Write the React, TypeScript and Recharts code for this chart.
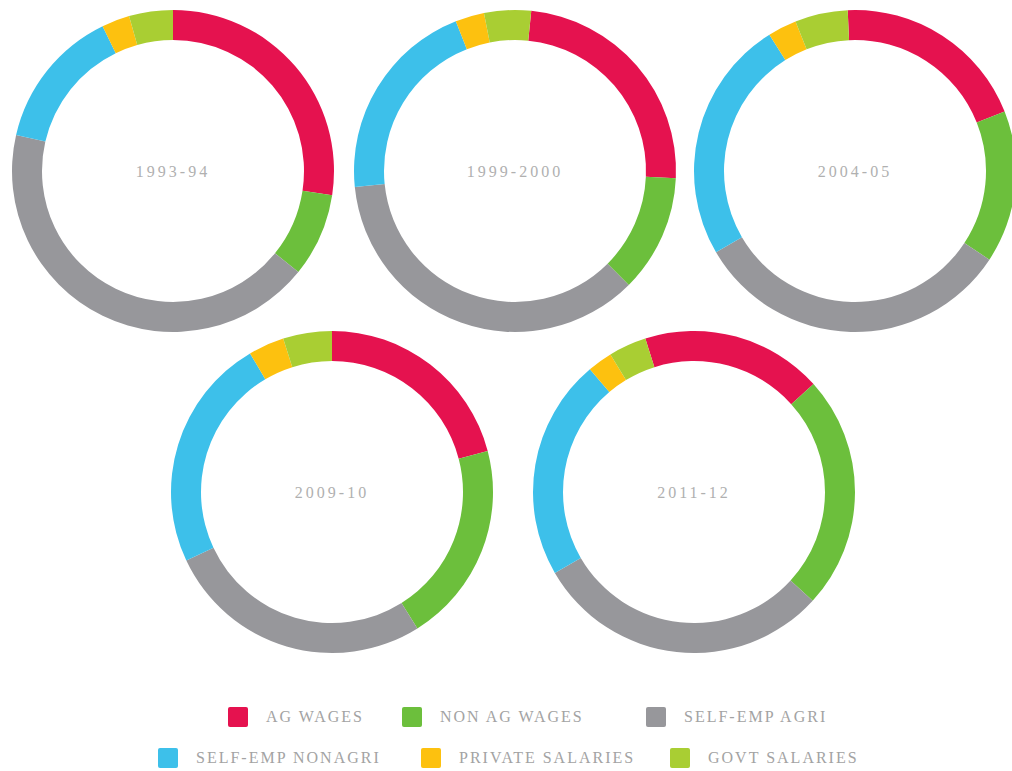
import { PieChart, Pie, Cell, Label } from "recharts";

const categories = [
  "AG WAGES",
  "NON AG WAGES",
  "SELF-EMP AGRI",
  "SELF-EMP NONAGRI",
  "PRIVATE SALARIES",
  "GOVT SALARIES",
];
const years = ["1993-94", "1999-2000", "2004-05", "2009-10", "2011-12"];

// share of income source, %
const share1993 = [27.4, 8.4, 42.8, 14.2, 2.8, 4.4];
const share1999 = [24.1, 11.8, 35.9, 20.6, 2.9, 4.7];
const share2004 = [19.7, 15.3, 32.3, 24.5, 2.9, 5.3];
const share2009 = [20.9, 20.2, 26.9, 23.5, 3.6, 4.9];
const share2011 = [18.2, 23.5, 29.8, 22.2, 2.5, 3.8];

const colors = ["#E5124F", "#6CBF3C", "#97979B", "#3DC0EA", "#FDC10F", "#A9CE33"];

// layout: ring centres and rotation (deg clockwise from 12 o'clock)
const centers = [
  [173, 171],
  [515, 171],
  [855, 171],
  [332, 492],
  [694, 492],
];
const rotation = [0, 5.8, -2.6, 0, -17.6];

const allShares = [share1993, share1999, share2004, share2009, share2011];

// legend layout (square's top-left)
const legendPos = [
  { x: 228, y: 707 },
  { x: 402, y: 707 },
  { x: 646, y: 707 },
  { x: 158, y: 748 },
  { x: 421, y: 748 },
  { x: 670, y: 748 },
];

const font = "'Liberation Serif', 'DejaVu Serif', serif";
const SIZE = 340;

export default function App() {
  const rings = allShares.map((vals) =>
    vals.map((v, i) => ({ name: categories[i], value: v }))
  );

  return (
    <div
      style={{
        position: "absolute",
        left: 0,
        top: 0,
        width: 1012,
        height: 771,
        background: "#fff",
        overflow: "hidden",
      }}
    >
      {rings.map((data, k) => (
        <div
          key={years[k]}
          style={{
            position: "absolute",
            left: centers[k][0] - SIZE / 2,
            top: centers[k][1] - SIZE / 2,
          }}
        >
          <PieChart width={SIZE} height={SIZE} margin={{ top: 0, right: 0, bottom: 0, left: 0 }}>
            <Pie
              data={data}
              dataKey="value"
              nameKey="name"
              cx="50%"
              cy="50%"
              innerRadius={131}
              outerRadius={161}
              startAngle={90 - rotation[k]}
              endAngle={90 - rotation[k] - 360}
              stroke="none"
              isAnimationActive={false}
            >
              {data.map((d, i) => (
                <Cell key={d.name} fill={colors[i]} />
              ))}
              <Label
                value={years[k]}
                position="center"
                fill="#b0b0b0"
                fontSize={16}
                fontFamily={font}
                style={{ letterSpacing: 3 }}
              />
            </Pie>
          </PieChart>
        </div>
      ))}

      {categories.map((c, i) => (
        <div
          key={c}
          style={{
            position: "absolute",
            left: legendPos[i].x,
            top: legendPos[i].y,
            height: 20,
            display: "flex",
            alignItems: "center",
            whiteSpace: "nowrap",
          }}
        >
          <div
            style={{
              width: 20,
              height: 20,
              borderRadius: 2,
              background: colors[i],
              marginRight: 18,
            }}
          />
          <span
            style={{
              fontFamily: font,
              fontSize: 16,
              letterSpacing: 2,
              color: "#a3a3a3",
            }}
          >
            {c}
          </span>
        </div>
      ))}
    </div>
  );
}
